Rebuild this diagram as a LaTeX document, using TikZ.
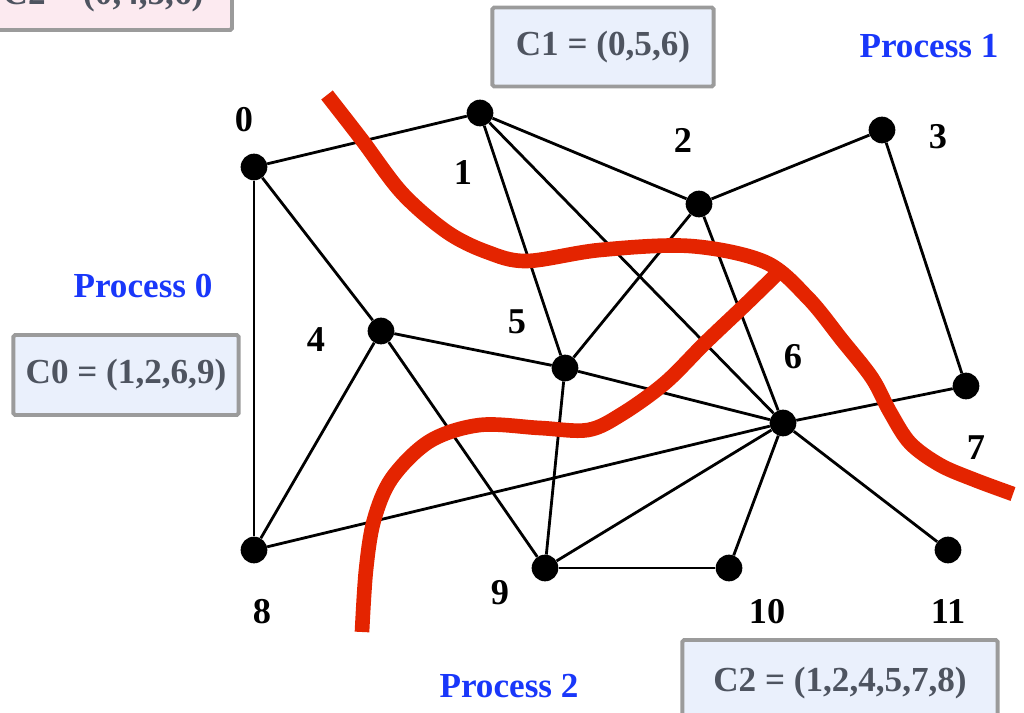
\documentclass[tikz,border=0pt]{standalone}
\usepackage{fontspec}
\setmainfont{Liberation Serif}
\definecolor{procblue}{RGB}{25,55,250}
\definecolor{cutred}{RGB}{228,36,0}
\definecolor{boxtext}{RGB}{78,84,96}
\definecolor{boxline}{RGB}{155,155,155}
\definecolor{boxblue}{RGB}{234,240,252}
\definecolor{boxpink}{RGB}{252,234,240}
\begin{document}
\begin{tikzpicture}[x=0.03cm,y=-0.03cm,
  vert/.style={circle,fill=black,minimum size=0.8cm,inner sep=0pt},
  edge/.style={line width=2.4pt,black},
  lbl/.style={font=\fontsize{31}{31}\selectfont\bfseries,text=black,inner sep=0pt},
  proc/.style={font=\fontsize{30}{30}\selectfont\bfseries,text=procblue,inner sep=0pt},
  cbox/.style={draw=boxline,line width=3.4pt,fill=boxblue,rounded corners=1.5pt,
    font=\fontsize{30}{30}\selectfont\bfseries,text=boxtext,inner sep=0pt,anchor=center},
  ctext/.style={font=\fontsize{30}{30}\selectfont\bfseries,text=boxtext,inner sep=0pt},
  cut/.style={cutred,line width=12.5pt,line cap=butt}]
\useasboundingbox (0,0) rectangle (1024,713);
\begin{scope}
\clip (0,0) rectangle (1024,713);
% boxes
\node[cbox,fill=boxpink,minimum width=7.2cm,minimum height=2.28cm] (c2top) at (112,-8) {};
\node[ctext] (c2toptxt) at (103,-4) {C2 = (0,4,5,6)};
\node[cbox,minimum width=6.64cm,minimum height=2.37cm] (c1box) at (603,47) {C1 = (0,5,6)};
\node[cbox,minimum width=6.76cm,minimum height=2.4cm] (c0box) at (126,375) {C0 = (1,2,6,9)};
\node[cbox,minimum width=9.46cm,minimum height=3cm] (c2box) at (840,690) {};
\node[ctext] (c2txt) at (840,683) {C2 = (1,2,4,5,7,8)};
\end{scope}
% process labels
\node[proc] (p1) at (929,46) {Process 1};
\node[proc] (p0) at (143,286) {Process 0};
\node[proc] (p2) at (509,686) {Process 2};
% vertices
\node[vert] (v0) at (254,167) {};
\node[vert] (v1) at (480,113) {};
\node[vert] (v2) at (699,204) {};
\node[vert] (v3) at (882,130) {};
\node[vert] (v4) at (381,331) {};
\node[vert] (v5) at (565,368) {};
\node[vert] (v6) at (783,423) {};
\node[vert] (v7) at (966,386) {};
\node[vert] (v8) at (254,550) {};
\node[vert] (v9) at (545,568) {};
\node[vert] (v10) at (729,568) {};
\node[vert] (v11) at (948,550) {};
% vertex labels
\node[lbl] (l0) at (244,120) {0};
\node[lbl] (l1) at (463,173) {1};
\node[lbl] (l2) at (683,140) {2};
\node[lbl] (l3) at (938,137) {3};
\node[lbl] (l4) at (316,340) {4};
\node[lbl] (l5) at (517,322) {5};
\node[lbl] (l6) at (793,357) {6};
\node[lbl] (l7) at (976,448) {7};
\node[lbl] (l8) at (262,612) {8};
\node[lbl] (l9) at (500,593) {9};
\node[lbl] (l10) at (767,612) {10};
\node[lbl] (l11) at (948,612) {11};
% edges
\draw[edge] (v0) -- (v1);
\draw[edge] (v0) -- (v4);
\draw[edge] (v0) -- (v8);
\draw[edge] (v1) -- (v2);
\draw[edge] (v1) -- (v5);
\draw[edge] (v1) -- (v6);
\draw[edge] (v2) -- (v3);
\draw[edge] (v2) -- (v5);
\draw[edge] (v2) -- (v6);
\draw[edge] (v3) -- (v7);
\draw[edge] (v4) -- (v5);
\draw[edge] (v4) -- (v8);
\draw[edge] (v4) -- (v9);
\draw[edge] (v5) -- (v6);
\draw[edge] (v5) -- (v9);
\draw[edge] (v8) -- (v6);
\draw[edge] (v6) -- (v7);
\draw[edge] (v6) -- (v9);
\draw[edge] (v6) -- (v10);
\draw[edge] (v6) -- (v11);
\draw[edge] (v9) -- (v10);
% partition cuts
\draw[cut] plot[smooth,tension=0.55] coordinates {(327,95) (362,140) (402,193) (447,232) (487,252) (527,261) (600,250) (690,246) (765,262) (808,298) (842,340) (872,378) (890,412) (910,443) (940,465) (975,480) (1013,494)};
\draw[cut] plot[smooth,tension=0.55] coordinates {(362,632) (366,570) (374,520) (392,478) (430,441) (480,425) (540,428) (588,430) (622,414) (665,383) (705,343) (745,305) (781,270)};
\end{tikzpicture}
\end{document}
